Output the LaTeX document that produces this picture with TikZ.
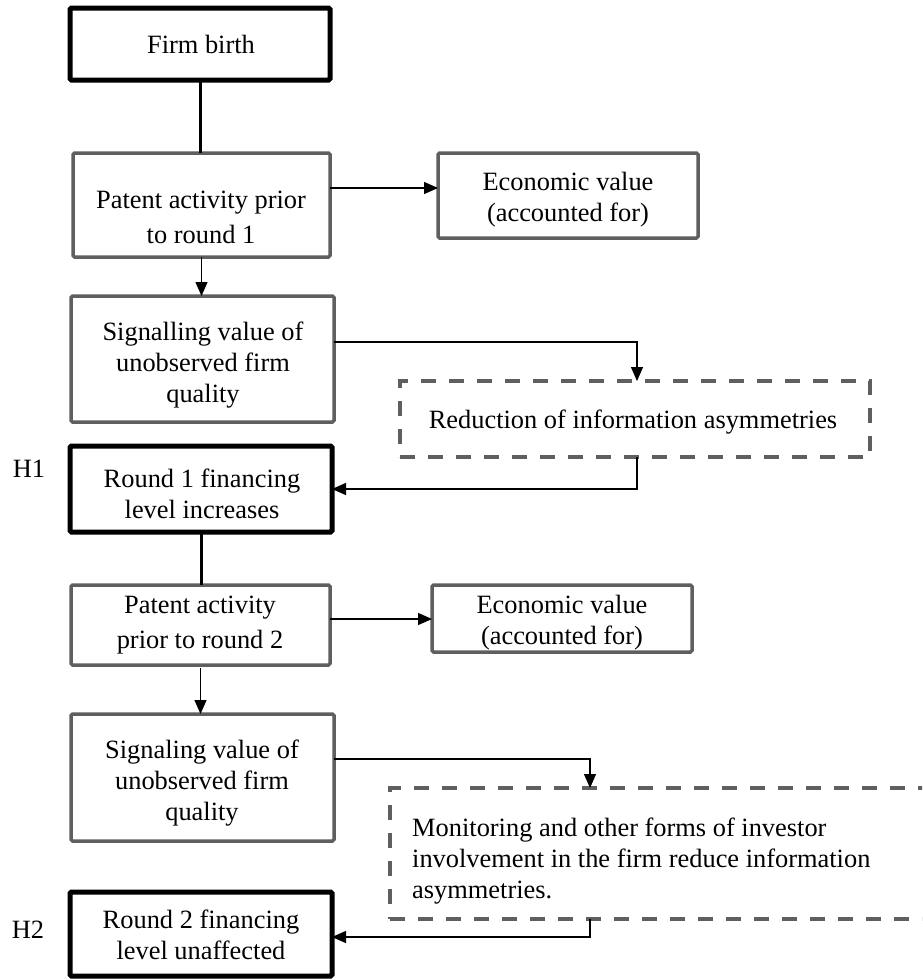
\documentclass[tikz,border=0pt]{standalone}
\usepackage{fontspec}
\setmainfont{Liberation Serif}
\usetikzlibrary{arrows.meta}
\definecolor{boxgray}{RGB}{95,95,95}
\begin{document}
\begin{tikzpicture}[x=1pt,y=-1pt,
  greybox/.style={draw=boxgray,line width=3.5pt,rounded corners=1.5pt,inner sep=0pt,outer sep=0pt,rectangle},
  blackbox/.style={draw=black,line width=5pt,rounded corners=1.5pt,inner sep=0pt,outer sep=0pt,rectangle},
  dashbox/.style={draw=boxgray,line width=4pt,dash pattern=on 15pt off 13pt,inner sep=0pt,outer sep=0pt,rectangle},
  txt/.style={font=\fontsize{26.4}{31}\selectfont,align=center,inner sep=0pt},
  txtwide/.style={font=\fontsize{26.4}{35.5}\selectfont,align=center,inner sep=0pt},
  conn/.style={line width=1.3pt,-{Triangle[length=14pt,width=12pt]}},
  stem/.style={line width=3pt}]
\useasboundingbox (0,0) rectangle (922,980);
\clip (0,0) rectangle (922,980);
\fill[white] (0,0) rectangle (922,980);

% boxes
\node[blackbox,minimum width=260pt,minimum height=72pt] (firm) at (200,44) {};
\node[greybox,minimum width=257pt,minimum height=104pt] (pat1) at (201.5,205) {};
\node[greybox,minimum width=260pt,minimum height=85pt] (eco1) at (568,195.5) {};
\node[greybox,minimum width=263pt,minimum height=126pt] (sig1) at (202.5,359) {};
\node[dashbox,minimum width=470pt,minimum height=76pt] (red) at (635,419) {};
\node[blackbox,minimum width=262pt,minimum height=86pt] (rnd1) at (201,489) {};
\node[greybox,minimum width=259pt,minimum height=80pt] (pat2) at (200.5,625) {};
\node[greybox,minimum width=260pt,minimum height=67pt] (eco2) at (562,618.5) {};
\node[greybox,minimum width=263pt,minimum height=127pt] (sig2) at (202.5,777.5) {};
\node[dashbox,minimum width=570pt,minimum height=131pt] (mon) at (675,853.5) {};
\node[blackbox,minimum width=262pt,minimum height=84pt] (rnd2) at (201,934) {};

% texts
\node[txt] (tfirm) at (201,44) {Firm birth};
\node[txtwide] (tpat1) at (201,217.5) {Patent activity prior\\to round 1};
\node[txt] (teco1) at (568,200) {Economic value\\(accounted for)};
\node[txt] (tsig1) at (203,365.5) {Signalling value of\\unobserved firm\\quality};
\node[txt] (tred) at (633,422) {Reduction of information asymmetries};
\node[txt] (trnd1) at (202,493.5) {Round 1 financing\\level increases};
\node[txtwide] (tpat2) at (200,625) {Patent activity\\prior to round 2};
\node[txt] (teco2) at (562,623) {Economic value\\(accounted for)};
\node[txt] (tsig2) at (202,783) {Signaling value of\\unobserved firm\\quality};
\node[txt,align=left,anchor=west] (tmon) at (412,861) {Monitoring and other forms of investor\\involvement in the firm reduce information\\asymmetries.};
\node[txt] (trnd2) at (201,935) {Round 2 financing\\level unaffected};
\node[txt] (h1) at (29,469) {H1};
\node[txt] (h2) at (28,930) {H2};

% connectors
\draw[stem] (firm.south) -- (firm.south |- pat1.north);
\coordinate (a1) at ([yshift=17pt]pat1.east);
\draw[conn] (a1) -- (a1 -| eco1.west);
\draw[conn] (pat1.south) -- (pat1.south |- sig1.north);
\coordinate (b1) at ([yshift=17pt]sig1.east);
\coordinate (r1) at ([xshift=2pt]red.north);
\coordinate (r2) at ([xshift=2pt]red.south);
\draw[conn] (b1) -| (r1);
\draw[conn] (r2) |- (rnd1.east);
\draw[stem] (rnd1.south) -- (rnd1.south |- pat2.north);
\coordinate (a2) at ([yshift=6pt]pat2.east);
\draw[conn] (a2) -- (a2 -| eco2.west);
\coordinate (p2) at ([yshift=-3pt]pat2.south);
\draw[conn] (p2) -- (p2 |- sig2.north);
\coordinate (b2) at ([yshift=18.5pt]sig2.east);
\coordinate (m1) at ([xshift=-85pt]mon.north);
\coordinate (m2) at ([xshift=-85pt]mon.south);
\coordinate (c2) at ([yshift=-3pt]rnd2.east);
\draw[conn] (b2) -| (m1);
\draw[conn] (m2) |- (c2);
\end{tikzpicture}
\end{document}
